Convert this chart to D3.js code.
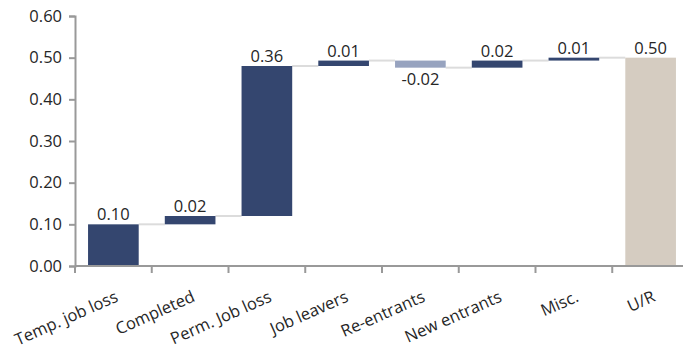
<!DOCTYPE html>
<html>
<head>
<meta charset="utf-8">
<script src="https://cdn.jsdelivr.net/npm/d3@7"></script>
<style>
  body { margin: 0; background: #fff; }
  svg { font-family: "Open Sans", sans-serif; }
</style>
</head>
<body>
<svg id="chart" width="683" height="349"></svg>
<script>
const categories = ['Temp. job loss', 'Completed', 'Perm. Job loss', 'Job leavers', 'Re-entrants', 'New entrants', 'Misc.', 'U/R'];
const changes = [0.10, 0.02, 0.36, 0.013, -0.017, 0.017, 0.007, null]; // null = total
const yTicks = [0, 0.1, 0.2, 0.3, 0.4, 0.5, 0.6];

// build waterfall steps
let run = 0;
const steps = categories.map((c, i) => {
  const d = changes[i];
  if (d === null) return { cat: c, start: 0, end: run, value: run, total: true };
  const s = { cat: c, start: run, end: run + d, value: d, total: false };
  run += d;
  return s;
});

const svg = d3.select('#chart');
const margin = { left: 75, top: 16, bottom: 83 };
const height = 349;
const fs = 16.5;

const x = d3.scaleBand().domain(categories).range([margin.left, 689]).paddingInner(0.34).paddingOuter(0.17);
const y = d3.scaleLinear().domain([0, 0.6]).range([height - margin.bottom, margin.top]);

const color = d => d.total ? '#d5ccc1' : (d.value < 0 ? '#97a3bf' : '#34466f');

// connectors
svg.append('g').selectAll('line').data(steps.slice(0, -1)).join('line')
  .attr('x1', d => x(d.cat) + x.bandwidth())
  .attr('x2', (d, i) => x(categories[i + 1]))
  .attr('y1', d => y(d.end)).attr('y2', d => y(d.end))
  .attr('stroke', '#dcdcdc').attr('stroke-width', 2);

svg.append('g').selectAll('rect').data(steps).join('rect')
  .attr('x', d => x(d.cat))
  .attr('width', x.bandwidth())
  .attr('y', d => y(Math.max(d.start, d.end)))
  .attr('height', d => Math.abs(y(d.start) - y(d.end)))
  .attr('fill', color);

// value labels
svg.append('g').selectAll('text').data(steps).join('text')
  .attr('x', d => x(d.cat) + x.bandwidth() / 2)
  .attr('y', d => d.value < 0 ? y(Math.min(d.start, d.end)) + 17 : y(Math.max(d.start, d.end)) - 4)
  .attr('text-anchor', 'middle')
  .attr('font-size', fs).attr('fill', '#262626')
  .text(d => d.value.toFixed(2));

// y axis
const yAxis = svg.append('g').attr('transform', `translate(${margin.left},0)`)
  .call(d3.axisLeft(y).tickValues(yTicks).tickFormat(d3.format('.2f')).tickSize(6).tickPadding(7));
yAxis.selectAll('text').attr('font-size', fs).attr('fill', '#262626').attr('font-family', '"Open Sans", sans-serif');

// x axis with ticks at band boundaries
const xg = svg.append('g').attr('transform', `translate(0,${y(0)})`);
xg.append('line').attr('x1', margin.left).attr('x2', 689).attr('stroke', '#999').attr('stroke-width', 2);
const step = x.step();
xg.selectAll('line.tk').data(categories).join('line').attr('class', 'tk')
  .attr('x1', (d, i) => margin.left + i * step).attr('x2', (d, i) => margin.left + i * step)
  .attr('y1', 0).attr('y2', 7).attr('stroke', '#999').attr('stroke-width', 2);
xg.selectAll('text').data(categories).join('text')
  .attr('transform', d => `translate(${x(d) + x.bandwidth() / 2 + 1},${24}) rotate(-24)`)
  .attr('text-anchor', 'end').attr('dy', '0.71em')
  .attr('font-size', fs).attr('fill', '#262626')
  .text(d => d);

svg.selectAll('.domain').attr('stroke', '#999').attr('stroke-width', 2);
yAxis.selectAll('.tick line').attr('stroke', '#999').attr('stroke-width', 2);
</script>
</body>
</html>
